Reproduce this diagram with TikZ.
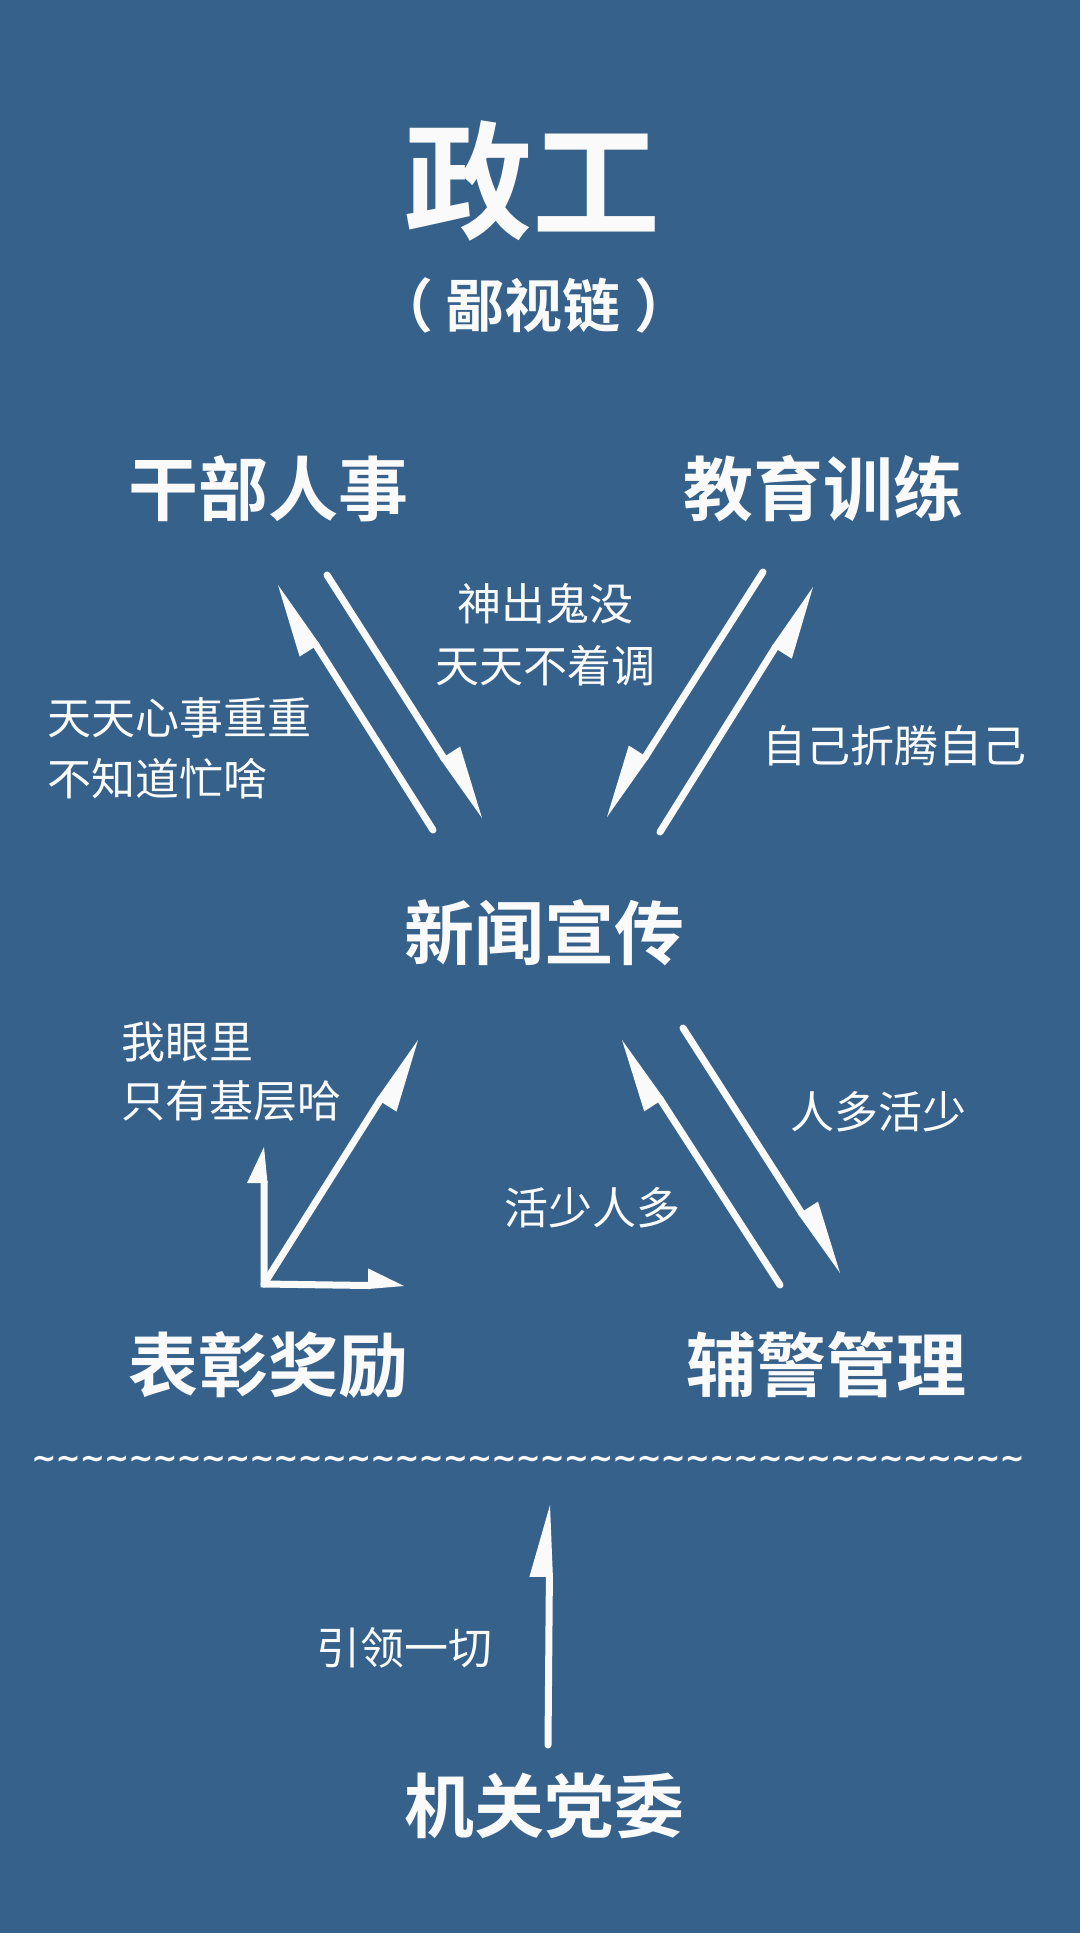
\documentclass[tikz,border=0pt]{standalone}
\usepackage{fontspec}
\usetikzlibrary{calc}
\newfontfamily\cjk{Noto Sans CJK SC}[BoldFont={Noto Sans CJK SC Bold}]
\newfontfamily\dvs{DejaVu Sans}
\definecolor{bg}{RGB}{54,97,139}
\definecolor{fg}{RGB}{250,250,250}
\tikzset{
  head/.style={font=\cjk\bfseries\fontsize{70}{70}\selectfont, text=fg, inner sep=0pt},
  small/.style={font=\cjk\fontsize{44}{44}\selectfont, text=fg, inner sep=0pt},
  shaft/.style={draw=fg, line width=7pt, line cap=round, line join=miter},
  barb/.style={fill=fg}
}
% #1 tip, #2 point on shaft, #3 barb side angle, #4 other side angle, #5 head length, #6 barb width
\newcommand\harphead[6]{%
  \fill[barb] (#1) -- ($(#1)!#5!(#2)!#6!#3:(#2)$) -- ($(#1)!#5!(#2)!3.5pt!#4:(#2)$) -- cycle;}
\newcommand\harp[4]{%
  \draw[shaft] ($(#1)!70pt!(#2)$) -- (#2);
  \harphead{#1}{#2}{#3}{#4}{72pt}{20pt}}
\newcommand\tld{\makebox[24.2pt]{\symbol{126}}}
\begin{document}
\begin{tikzpicture}[x=1pt,y=-1pt]
\useasboundingbox (0,0) rectangle (1080,1933);
\fill[bg] (0,0) rectangle (1080,1933);

% titles
\node[text=fg, inner sep=0pt, font=\cjk\bfseries\fontsize{128}{128}\selectfont] (title) at (532,181) {政工};
\node[text=fg, inner sep=0pt, font=\cjk\bfseries\fontsize{58}{58}\selectfont] (sub) at (534,305) {（\hspace{14pt}鄙视链\hspace{14pt}）};

% main nodes
\node[head] (gb) at (268,489) {干部人事};
\node[head] (jy) at (823,489) {教育训练};
\node[head] (xw) at (544,933) {新闻宣传};
\node[head] (bz) at (268,1365) {表彰奖励};
\node[head] (fj) at (826,1365) {辅警管理};
\node[head] (jg) at (544,1806) {机关党委};

% small labels
\node[small] (l1a) at (545,604) {神出鬼没};
\node[small] (l1b) at (545,666) {天天不着调};
\node[small, anchor=west] (l2a) at (47,718) {天天心事重重};
\node[small, anchor=west] (l2b) at (47,779) {不知道忙啥};
\node[small] (l3) at (894,746) {自己折腾自己};
\node[small, anchor=west] (l4a) at (121,1042) {我眼里};
\node[small, anchor=west] (l4b) at (121,1101) {只有基层哈};
\node[small] (l5) at (878,1112) {人多活少};
\node[small] (l6) at (592,1208) {活少人多};
\node[small] (l7) at (404,1648) {引领一切};

% wavy separator
\node[text=fg, inner sep=0pt, font=\dvs\bfseries\fontsize{30}{30}\selectfont] (wave) at (528,1462)
  {\tld\tld\tld\tld\tld\tld\tld\tld\tld\tld\tld\tld\tld\tld\tld\tld\tld\tld\tld\tld\tld\tld\tld\tld\tld\tld\tld\tld\tld\tld\tld\tld\tld\tld\tld\tld\tld\tld\tld\tld\tld};

% arrow coordinates
\coordinate (a1t) at (278,585);  \coordinate (a1s) at (433,830);
\coordinate (a2t) at (482,818);  \coordinate (a2s) at (327,575);
\coordinate (a3t) at (607,817);  \coordinate (a3s) at (763,572);
\coordinate (a4t) at (813,587);  \coordinate (a4s) at (660,832);
\coordinate (b1t) at (622,1040); \coordinate (b1s) at (780,1285);
\coordinate (b2t) at (840,1273); \coordinate (b2s) at (683,1028);
\coordinate (vt) at (550,1505);  \coordinate (vs) at (548,1745);
\coordinate (c) at (264,1284);
\coordinate (dt) at (418,1040);
\coordinate (lvt) at (264,1147);
\coordinate (lht) at (404,1286);

\harp{a1t}{a1s}{-90}{90}
\harp{a2t}{a2s}{-90}{90}
\harp{a3t}{a3s}{90}{-90}
\harp{a4t}{a4s}{90}{-90}
\harp{b1t}{b1s}{-90}{90}
\harp{b2t}{b2s}{-90}{90}
\harp{vt}{vs}{-90}{90}

% L-shaped group
\draw[shaft, line cap=butt] ($(lvt)!34pt!(c)$) -- (c) -- ($(lht)!34pt!(c)$);
\draw[shaft] ($(dt)!70pt!(c)$) -- (c);
\harphead{dt}{c}{90}{-90}{72pt}{20pt}
\harphead{lvt}{c}{-90}{90}{36pt}{17pt}
\harphead{lht}{c}{-90}{90}{36pt}{17pt}
\end{tikzpicture}
\end{document}
